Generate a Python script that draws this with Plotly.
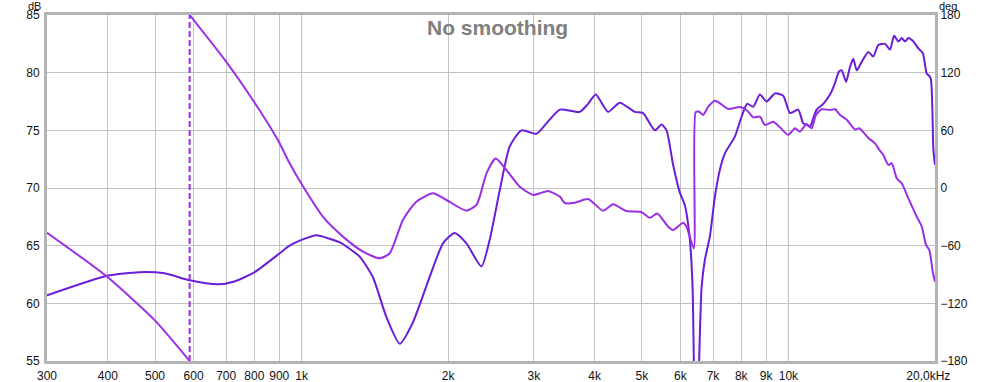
import plotly.graph_objects as go

# ---------------- data ----------------
mag_freq = [300, 399, 464, 523, 589, 672, 728, 801, 893, 945,
            1000, 1074, 1142, 1197, 1316, 1400, 1494, 1591, 1691, 1833,
            1952, 2063, 2181, 2341, 2434, 2553, 2676, 2829, 3037, 3184,
            3392, 3727, 3877, 4021, 4261, 4504, 4836, 5029, 5316, 5488,
            5618, 5797, 5984, 6127, 6274, 6355, 6393, 6470, 6556, 6632,
            6737, 6897, 7062, 7232, 7405, 7762, 8013, 8229, 8466, 8738,
            9020, 9382, 9757, 10072, 10474, 10725, 10899, 11072, 11214, 11429,
            11791, 12172, 12464, 12702, 12867, 13131, 13381, 13592, 13813, 14144,
            14588, 14939, 15297, 15791, 16167, 16479, 16817, 17090, 17360, 17634,
            18057, 18487, 18878, 19237, 19384, 19604, 19849, 20000]
mag_db = [60.7, 62.4, 62.7, 62.6, 62.0, 61.65, 61.9, 62.7, 64.2, 65.0,
          65.5, 65.9, 65.6, 65.3, 64.05, 62.3, 58.8, 56.5, 58.3, 62.3,
          65.2, 66.1, 65.2, 63.2, 65.5, 69.8, 73.6, 75.0, 74.7, 75.6,
          76.8, 76.6, 77.3, 78.1, 76.6, 77.4, 76.6, 76.5, 75.0, 75.5,
          75.0, 72.0, 69.6, 68.5, 65.5, 61.4, 55.1, 45.0, 55.1, 61.4,
          63.8, 65.8, 69.25, 71.6, 73.0, 74.45, 76.2, 77.3, 77.05, 78.1,
          77.5, 78.2, 78.0, 76.5, 76.8, 75.6, 75.5, 75.3, 75.9, 76.8,
          77.3, 78.1, 79.1, 80.1, 80.2, 79.2, 80.5, 81.2, 80.2, 80.95,
          81.8, 81.4, 82.4, 82.5, 82.0, 83.2, 82.7, 83.0, 82.7, 83.0,
          82.7, 82.1, 81.7, 79.9, 79.8, 79.5, 73.3, 72.0]

# phase below the wrap
phase_lo_freq = [300, 397, 498, 589]
phase_lo_deg = [-46.6, -91.6, -137.0, -180.0]

# phase after the wrap
phase_hi_freq = [589, 700, 794, 894, 945, 1006, 1106, 1216, 1337, 1447,
                 1517, 1615, 1721, 1862, 1984, 2181, 2286, 2323, 2398, 2505,
                 2635, 2806, 2989, 3085, 3208, 3392, 3473, 3641, 3877, 4162,
                 4364, 4650, 4992, 5193, 5376, 5661, 5797, 6078, 6175, 6393,
                 6450, 6556, 6682, 6842, 7062, 7232, 7521, 7949, 8206, 8466,
                 8738, 8948, 9306, 9606, 9991, 10313, 10558, 10899, 11161, 11390,
                 11702, 12172, 12464, 12764, 13174, 13700, 13981, 14588, 15060, 15370,
                 15660, 16040, 16300, 16690, 17090, 17634, 18350, 18790, 19170, 19470,
                 19790, 20000]
phase_hi_deg = [180, 131.4, 91.6, 49.9, 25.7, 2, -29.9, -50.6, -66.2, -73.2,
                -67.9, -33.2, -14.3, -5.5, -12.5, -23.6, -17.7, -9, 15.3, 30.8,
                18.7, 1.3, -7.2, -5.5, -3.1, -9, -15.6, -15.3, -11.5, -23.6,
                -17, -24, -25.2, -31, -26.5, -40.2, -43.7, -36.1, -40.2, -62.8,
                79, 79.4, 76, 84.6, 90.9, 88.1, 82.2, 84.3, 81.2, 73.5,
                74.2, 65.5, 69, 63.1, 55.2, 62.1, 58.7, 66.6, 62.1, 76,
                81.9, 81.2, 81.9, 76, 71, 61, 62.1, 52, 46.5, 39.6,
                34.3, 23.9, 25.7, 10.1, 4.9, -10.8, -29.9, -40.2, -59.3, -64.5,
                -87.1, -97.5]

wrap_freq = 589
wrap_deg = [-180, 180]

x_tickvals = [300, 400, 500, 600, 700, 800, 900, 1000, 2000, 3000, 4000, 5000,
              6000, 7000, 8000, 9000, 10000, 20000]
x_ticktext = ["300", "400", "500", "600", "700", "800", "900", "1k", "2k", "3k",
              "4k", "5k", "6k", "7k", "8k", "9k", "10k", "20,0kHz\u00a0\u00a0\u00a0\u00a0"]
decade_lines = [1000, 10000]
db_ticks = [55, 60, 65, 70, 75, 80, 85]
deg_ticks = [-180, -120, -60, 0, 60, 120, 180]

MAG_COLOR = "#6A1ED8"
PH_COLOR = "#9A2FE6"
FONT = "Liberation Sans, Arial, sans-serif"

fig = go.Figure()

fig.add_trace(go.Scatter(x=[wrap_freq, wrap_freq], y=wrap_deg, yaxis="y2",
                         mode="lines", line=dict(color=PH_COLOR, width=2, dash="6px,3px"),
                         hoverinfo="skip", showlegend=False))
fig.add_trace(go.Scatter(x=phase_lo_freq, y=phase_lo_deg, yaxis="y2", mode="lines",
                         line=dict(color=PH_COLOR, width=2, shape="spline", smoothing=0.6),
                         showlegend=False))
fig.add_trace(go.Scatter(x=phase_hi_freq, y=phase_hi_deg, yaxis="y2", mode="lines",
                         line=dict(color=PH_COLOR, width=2, shape="spline", smoothing=0.6),
                         showlegend=False))
fig.add_trace(go.Scatter(x=mag_freq, y=mag_db, mode="lines",
                         line=dict(color=MAG_COLOR, width=2, shape="spline", smoothing=0.6),
                         showlegend=False))

shapes = []
for f in decade_lines:
    shapes.append(dict(type="line", xref="x", yref="paper", x0=f, x1=f, y0=0, y1=1,
                       line=dict(color="#8a8a8a", width=1), layer="below"))

fig.update_layout(
    width=993, height=382,
    margin=dict(l=47, r=58, t=15, b=21, autoexpand=False),
    paper_bgcolor="white", plot_bgcolor="white",
    font=dict(family=FONT, size=12, color="#111111"),
    shapes=shapes,
    xaxis=dict(type="log", range=[2.4771213, 4.30103], tickvals=x_tickvals, ticktext=x_ticktext,
               showgrid=True, gridcolor="#c4c4c4", gridwidth=1, zeroline=False,
               showline=True, mirror=True, linecolor="#b4b4b4", linewidth=3,
               ticks="outside", ticklen=2, tickcolor="rgba(0,0,0,0)",
               tickfont=dict(size=12), automargin=False),
    yaxis=dict(range=[55, 85], tickvals=db_ticks, showgrid=True, gridcolor="#c4c4c4",
               zeroline=False, showline=True, mirror=True, linecolor="#b4b4b4", linewidth=3,
               ticks="outside", ticklen=2, tickcolor="rgba(0,0,0,0)", tickfont=dict(size=12),
               automargin=False),
    yaxis2=dict(range=[-180, 180], tickvals=deg_ticks, overlaying="y", side="right",
                showgrid=False, zeroline=False, showline=False,
                ticks="outside", ticklen=2, tickcolor="rgba(0,0,0,0)", tickfont=dict(size=12),
                automargin=False),
    annotations=[
        dict(text="No smoothing", xref="paper", yref="paper", x=0.507, y=0.965,
             xanchor="center", yanchor="middle", showarrow=False,
             font=dict(family=FONT, size=21, color="#808080", weight="bold")),
        dict(text="dB", xref="paper", yref="paper", x=-0.0146, y=1.025,
             xanchor="center", yanchor="middle", showarrow=False, borderpad=0,
             font=dict(family=FONT, size=11, color="#111111")),
        dict(text="deg", xref="paper", yref="paper", x=1.0146, y=1.025,
             xanchor="center", yanchor="middle", showarrow=False, borderpad=0,
             font=dict(family=FONT, size=11, color="#111111")),
    ],
)

# remove the default 8px page margin so the figure fills the window exactly
fig.write_html("out.html", config={"displayModeBar": False},
               post_script="document.body.style.margin='0';document.body.style.overflow='hidden';")
